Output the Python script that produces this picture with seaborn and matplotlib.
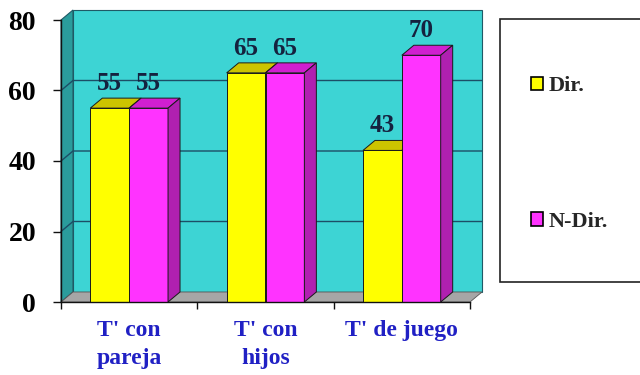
import matplotlib
matplotlib.use("Agg")
import matplotlib.pyplot as plt
import pandas as pd
import seaborn as sns
from matplotlib.patches import Polygon, Rectangle

# ---- data ----
categories = ["T' con\npareja", "T' con\nhijos", "T' de juego"]
series = ["Dir.", "N-Dir."]
dir_values = [55, 65, 43]
ndir_values = [55, 65, 70]
y_ticks = [0, 20, 40, 60, 80]

df = pd.DataFrame({
    "categoria": categories * 2,
    "serie": [series[0]] * len(categories) + [series[1]] * len(categories),
    "valor": dir_values + ndir_values,
})

# ---- style ----
sns.set_theme(style="white")
plt.rcParams["font.family"] = ["Liberation Serif", "DejaVu Serif"]
plt.rcParams["font.weight"] = "bold"

face = {"Dir.": "#FFFF00", "N-Dir.": "#FF33FF"}
top_col = {"Dir.": "#CCC400", "N-Dir.": "#D01FD0"}
side_col = {"Dir.": "#B0AE00", "N-Dir.": "#B020B0"}
wall_col = "#3DD4D4"
side_wall_col = "#2A9C9C"
floor_col = "#A6A6A6"
grid_col = "#1C4E66"
edge_col = "#1A1A1A"

W_PX, H_PX = 640, 375
fig = plt.figure(figsize=(W_PX / 100, H_PX / 100), dpi=100)
fig.patch.set_facecolor("white")

ax_l, ax_r, ax_b, ax_t = 61, 470, 302, 20  # plot area in pixels
ax = fig.add_axes([ax_l / W_PX, (H_PX - ax_b) / H_PX,
                   (ax_r - ax_l) / W_PX, (ax_b - ax_t) / H_PX])

sns.barplot(data=df, x="categoria", y="valor", hue="serie", palette=face,
            saturation=1, width=0.57, edgecolor=edge_col, linewidth=0.7,
            legend=False, ax=ax, zorder=3)

XMIN, XMAX, YMIN, YMAX = -0.5, 2.5, 0, 80
ax.set_xlim(XMIN, XMAX)
ax.set_ylim(YMIN, YMAX)
ax.set_facecolor("none")

# depth of the 3-D effect, in pixels
DX, DY = 12, 10
ux = (XMAX - XMIN) / (ax_r - ax_l)
uy = (YMAX - YMIN) / (ax_b - ax_t)


def P(x, y, ox=0.0, oy=0.0):
    return (x + ox * DX * ux, y + oy * DY * uy)


def poly(pts, color, z, lw=0.7, ec=edge_col):
    ax.add_patch(Polygon(pts, closed=True, facecolor=color, edgecolor=ec,
                         linewidth=lw, zorder=z, clip_on=False))


# back wall, side wall and floor
poly([P(XMIN, 0, 1, 1), P(XMAX, 0, 1, 1), P(XMAX, YMAX, 1, 1), P(XMIN, YMAX, 1, 1)],
     wall_col, 0, lw=0.8, ec="#1F5A66")
poly([P(XMIN, 0), P(XMIN, 0, 1, 1), P(XMIN, YMAX, 1, 1), P(XMIN, YMAX)],
     side_wall_col, 0.2, lw=0.8, ec="#1F5A66")
poly([P(XMIN, 0), P(XMAX, 0), P(XMAX, 0, 1, 1), P(XMIN, 0, 1, 1)],
     floor_col, 0.4, lw=0.6, ec="#555555")

# gridlines on back wall and side wall
for v in y_ticks[1:-1]:
    xs, ys = zip(P(XMIN, v), P(XMIN, v, 1, 1), P(XMAX, v, 1, 1))
    ax.plot(xs, ys, color=grid_col, lw=1.0, zorder=1, clip_on=False)

# 3-D faces of the bars
for cont, name in zip(ax.containers, series):
    z = 2.5 if name == series[0] else 3.5
    for rect in cont:
        x0, w, h = rect.get_x(), rect.get_width(), rect.get_height()
        poly([P(x0, h), P(x0 + w, h), P(x0 + w, h, 1, 1), P(x0, h, 1, 1)],
             top_col[name], z)
        poly([P(x0 + w, 0), P(x0 + w, 0, 1, 1), P(x0 + w, h, 1, 1), P(x0 + w, h)],
             side_col[name], z)
        ax.annotate(f"{h:.0f}", xy=(x0 + w / 2, h), xytext=(0, 13),
                    textcoords="offset points", ha="center", va="baseline",
                    fontsize=18, fontweight="bold", color="#15223F", zorder=5,
                    annotation_clip=False)

# axes, ticks and labels
for s in ["top", "right"]:
    ax.spines[s].set_visible(False)
for s in ["left", "bottom"]:
    ax.spines[s].set_color("#111111")
    ax.spines[s].set_linewidth(1.0)
    ax.spines[s].set_zorder(6)

ax.set_yticks(y_ticks)
ax.set_yticklabels([str(t) for t in y_ticks], fontsize=20, fontweight="bold",
                   color="black")
ax.tick_params(axis="y", direction="out", length=6, width=1.0, color="#111111",
               pad=12, left=True)

ax.set_xticks(range(len(categories)))
ax.set_xticklabels(categories, fontsize=17, fontweight="bold", color="#2020C4",
                   linespacing=1.42, va="top")
ax.tick_params(axis="x", which="major", length=0, pad=13)
ax.set_xticks([XMIN + i for i in range(len(categories) + 1)], minor=True)
ax.tick_params(axis="x", which="minor", direction="out", length=5, width=1.0,
               color="#111111", bottom=True)
ax.set_xlabel("")
ax.set_ylabel("")
ax.grid(False)

# legend box
fig.patches.append(Rectangle((500 / W_PX, (H_PX - 282) / H_PX),
                             160 / W_PX, 263 / H_PX, transform=fig.transFigure,
                             facecolor="white", edgecolor="#222222",
                             linewidth=1.2, zorder=0))
handles = [Rectangle((0, 0), 1, 1, facecolor=face[s], edgecolor="black",
                     linewidth=1.2) for s in series]
leg = fig.legend(handles, series, loc="center left",
                 bbox_to_anchor=(531 / W_PX, (H_PX - 154) / H_PX),
                 frameon=False, fontsize=16, handlelength=0.55,
                 handleheight=0.55, handletextpad=0.25, labelspacing=5.2,
                 borderpad=0, borderaxespad=0)
for t in leg.get_texts():
    t.set_fontweight("bold")

fig.savefig("out.png", dpi=100, facecolor="white")
